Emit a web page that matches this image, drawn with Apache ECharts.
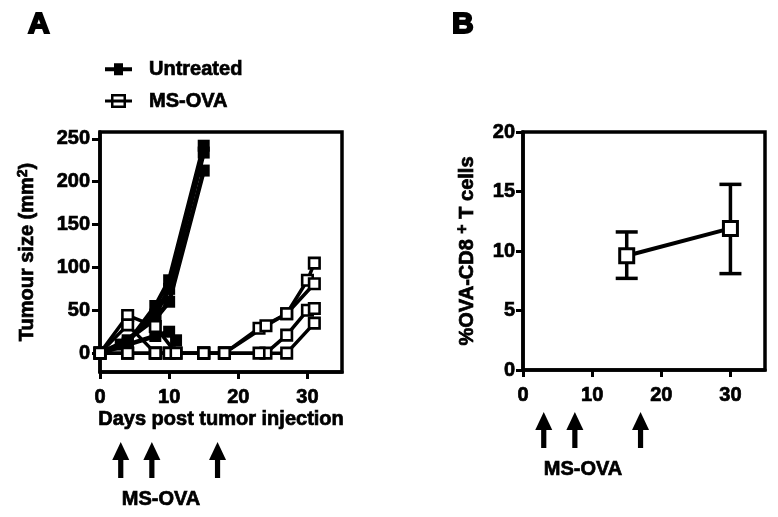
<!DOCTYPE html>
<html>
<head>
<meta charset="utf-8">
<script src="https://cdn.jsdelivr.net/npm/echarts@6/dist/echarts.min.js"></script>
<style>
html,body{margin:0;padding:0;background:#fff;}
#c{width:778px;height:517px;}
</style>
</head>
<body>
<div id="c"></div>
<script>
// ---------- Panel A data (day, tumour size mm^2) ----------
const untreated1 = [[0,0],[4,12],[8,55],[10,85],[15,242]];
const untreated2 = [[0,0],[4,15],[8,45],[10,75],[15,234]];
const untreated3 = [[0,0],[3,10],[8,40],[10,60],[15,213]];
const untreated4 = [[0,0],[4,10],[8,20],[10,25],[11,15]];
const msova1 = [[0,0],[4,44],[8,31],[11,0],[15,0],[18,0],[23,29],[27,46],[30,85],[31,105]];
const msova2 = [[0,0],[4,33],[8,0],[10,0],[15,0],[18,0],[24,32],[27,46],[31,81]];
const msova3 = [[0,0],[4,0],[8,0],[10,0],[15,0],[18,0],[24,0],[27,21],[30,50],[31,52]];
const msova4 = [[0,0],[4,0],[8,0],[11,0],[15,0],[18,0],[23,0],[27,0],[31,35]];
const yTicksA = [0,50,100,150,200,250];
const xTicks = [0,10,20,30];
const yTicksB = [0,5,10,15,20];
// ---------- Panel B data ----------
const daysB = [15, 30];
const meanB = [9.6, 11.9];
const lowB = [7.7, 8.1];
const highB = [11.6, 15.6];
// ---------- MS-OVA treatment days (arrows) ----------
const treatDays = [3, 7.5, 17];

const FONT = '"Liberation Sans", Arial, sans-serif';
const chart = echarts.init(document.getElementById('c'), null, {renderer:'canvas'});

const untreatedSets = [untreated1, untreated2, untreated3, untreated4];
const msovaSets = [msova1, msova2, msova3, msova4];

const series = [];
untreatedSets.forEach(d => series.push({
  type:'line', name:'Untreated', xAxisIndex:0, yAxisIndex:0, data:d,
  symbol:'rect', symbolSize:12, showSymbol:true,
  itemStyle:{color:'#000'}, lineStyle:{color:'#000', width:4.5}, z:2
}));
msovaSets.forEach(d => series.push({
  type:'line', name:'MS-OVA', xAxisIndex:0, yAxisIndex:0, data:d,
  symbol:'rect', symbolSize:10.5, showSymbol:true,
  itemStyle:{color:'#fff', borderColor:'#000', borderWidth:2.6},
  lineStyle:{color:'#000', width:3.5}, z:3
}));
series.push({
  type:'custom', name:'err', xAxisIndex:1, yAxisIndex:1,
  data: daysB.map((d,i)=>[d, lowB[i], highB[i]]),
  encode:{x:0, y:[1,2]},
  renderItem:function(params, api){
    const x = api.value(0);
    const pLo = api.coord([x, api.value(1)]);
    const pHi = api.coord([x, api.value(2)]);
    const w = 11;
    const st = {stroke:'#000', lineWidth:3.5};
    return {type:'group', children:[
      {type:'line', shape:{x1:pLo[0], y1:pLo[1], x2:pHi[0], y2:pHi[1]}, style:st},
      {type:'line', shape:{x1:pHi[0]-w, y1:pHi[1], x2:pHi[0]+w, y2:pHi[1]}, style:st},
      {type:'line', shape:{x1:pLo[0]-w, y1:pLo[1], x2:pLo[0]+w, y2:pLo[1]}, style:st}
    ]};
  }, z:2
});
series.push({
  type:'line', name:'B', xAxisIndex:1, yAxisIndex:1,
  data: daysB.map((d,i)=>[d, meanB[i]]),
  symbol:'rect', symbolSize:14,
  itemStyle:{color:'#fff', borderColor:'#000', borderWidth:3},
  lineStyle:{color:'#000', width:4}, z:3
});

const heavy = {textBorderColor:'#000', textBorderWidth:0.7};
const labelStyle = Object.assign({color:'#000', fontSize:20, fontWeight:'bold', fontFamily:FONT}, heavy);
const nameStyle = Object.assign({fontSize:20, fontWeight:'bold', color:'#000', fontFamily:FONT}, heavy);

function axis(extra, labelExtra, tickExtra){
  return Object.assign({
    axisLine:{show:true, onZero:false, lineStyle:{color:'#000', width:3.5}},
    axisTick:Object.assign({show:true, length:7, lineStyle:{color:'#000', width:3}}, tickExtra),
    splitLine:{show:false},
    axisLabel:Object.assign({}, labelStyle, labelExtra)
  }, extra);
}

const option = {
  animation:false,
  backgroundColor:'#fff',
  textStyle:{fontFamily:FONT},
  legend:{
    left:100, top:54, orient:'vertical', itemWidth:27, itemHeight:14, itemGap:11,
    selectedMode:false,
    data:[
      {name:'Untreated', icon:'path://M0,5L27,5L27,9L0,9Z M9,1L18,1L18,13L9,13Z', itemStyle:{color:'#000', borderWidth:0}},
      {name:'MS-OVA', icon:'path://M0,5.5L27,5.5L27,8.5L0,8.5Z M6,0L21,0L21,2.5L6,2.5Z M6,11.5L21,11.5L21,14L6,14Z M6,0L8.5,0L8.5,14L6,14Z M18.5,0L21,0L21,14L18.5,14Z', itemStyle:{color:'#000', borderWidth:0}}
    ],
    textStyle:Object.assign({}, labelStyle, {padding:[0,0,0,12]})
  },
  grid:[
    {left:100, top:132, width:242, height:240, show:true, borderColor:'#000', borderWidth:3.5, backgroundColor:'transparent'},
    {left:523, top:132, width:242, height:238, show:true, borderColor:'#000', borderWidth:3.5, backgroundColor:'transparent'}
  ],
  xAxis:[
    axis({type:'value', gridIndex:0, min:0, max:35, interval:10,
      name:'Days post tumor injection', nameLocation:'middle', nameGap:37,
      nameTextStyle:Object.assign({}, nameStyle, {verticalAlign:'top'})},
      {margin:15, customValues:xTicks}, {customValues:xTicks}),
    axis({type:'value', gridIndex:1, min:0, max:35, interval:10},
      {margin:15, customValues:xTicks}, {customValues:xTicks})
  ],
  yAxis:[
    axis({type:'value', gridIndex:0, min:-22, max:258,
      name:'Tumour size (mm{sup|2})', nameLocation:'middle', nameGap:62, nameRotate:90,
      nameTextStyle:Object.assign({}, nameStyle, {
        rich:{sup:Object.assign({fontSize:14, fontWeight:'bold', color:'#000', fontFamily:FONT, verticalAlign:'top', padding:[0,0,8,0]}, heavy)}})},
      {margin:10, customValues:yTicksA}, {length:8, customValues:yTicksA}),
    axis({type:'value', gridIndex:1, min:0, max:20, interval:5,
      name:'%OVA-CD8 {sup|+} T cells', nameLocation:'middle', nameGap:44, nameRotate:90,
      nameTextStyle:Object.assign({}, nameStyle, {
        rich:{sup:Object.assign({fontSize:16, fontWeight:'bold', color:'#000', fontFamily:FONT, verticalAlign:'top', padding:[0,0,8,0]}, heavy)}})},
      {margin:8, customValues:yTicksB}, {customValues:yTicksB})
  ],
  series: series
};
chart.setOption(option);

// arrows and labels, placed via the axes' own scales
function arrowShapes(xAxisIndex, yTip, yBot){
  const out = [];
  treatDays.forEach(d => {
    const x = chart.convertToPixel({xAxisIndex:xAxisIndex}, d);
    out.push({type:'polygon', shape:{points:[[x, yTip],[x-8.5, yTip+18],[x+8.5, yTip+18]]}, style:{fill:'#000'}});
    out.push({type:'rect', shape:{x:x-2.6, y:yTip+15, width:5.2, height:yBot-yTip-15}, style:{fill:'#000'}});
  });
  const x0 = chart.convertToPixel({xAxisIndex:xAxisIndex}, treatDays[0]);
  return {shapes:out, x0:x0};
}
const aA = arrowShapes(0, 442, 478);
const aB = arrowShapes(1, 412, 448);
const labelFont = 'bold 20px ' + FONT;
chart.setOption({
  graphic:[
    {type:'text', left:27, top:9, style:{text:'A', font:'bold 30px ' + FONT, fill:'#000', stroke:'#000', lineWidth:2}},
    {type:'text', left:451, top:9, style:{text:'B', font:'bold 30px ' + FONT, fill:'#000', stroke:'#000', lineWidth:2}},
    {type:'group', children:aA.shapes},
    {type:'group', children:aB.shapes},
    {type:'text', x:aA.x0 + 1, y:489, style:{text:'MS-OVA', font:labelFont, fill:'#000', stroke:'#000', lineWidth:0.7}},
    {type:'text', x:aB.x0, y:459, style:{text:'MS-OVA', font:labelFont, fill:'#000', stroke:'#000', lineWidth:0.7}}
  ]
});
</script>
</body>
</html>
